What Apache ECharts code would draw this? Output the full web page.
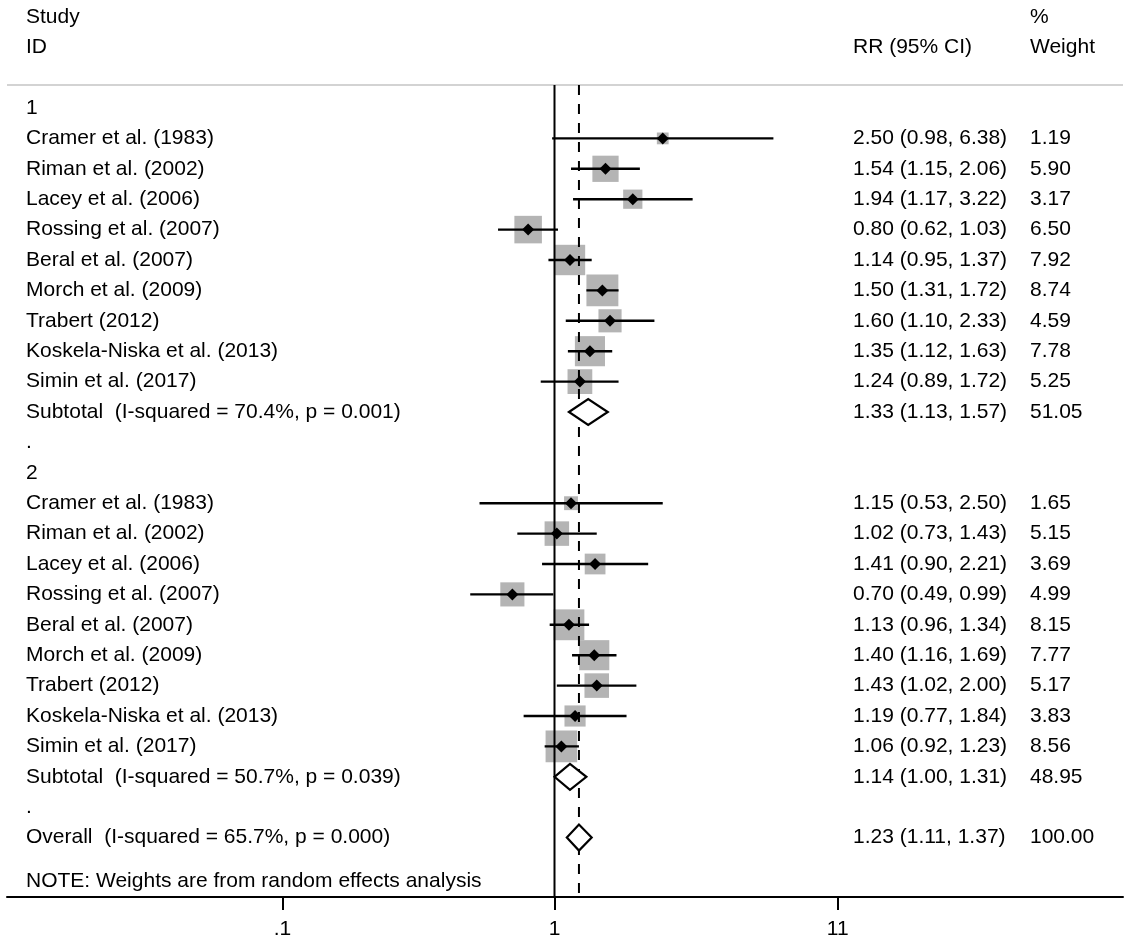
<!DOCTYPE html>
<html><head><meta charset="utf-8">
<script src="https://cdn.jsdelivr.net/npm/echarts@6/dist/echarts.min.js"></script>
<style>html,body{margin:0;padding:0;background:#fff}#c{width:1134px;height:948px}</style>
</head><body><div id="c"></div>
<script>
// ---------------- data ----------------
const groupLabels = ['1', '2'];
const studies = ['Cramer et al. (1983)', 'Riman et al. (2002)', 'Lacey et al. (2006)', 'Rossing et al. (2007)',
  'Beral et al. (2007)', 'Morch et al. (2009)', 'Trabert (2012)', 'Koskela-Niska et al. (2013)', 'Simin et al. (2017)'];
const g1RR = [2.50, 1.54, 1.94, 0.80, 1.14, 1.50, 1.60, 1.35, 1.24];
const g1Lo = [0.98, 1.15, 1.17, 0.62, 0.95, 1.31, 1.10, 1.12, 0.89];
const g1Hi = [6.38, 2.06, 3.22, 1.03, 1.37, 1.72, 2.33, 1.63, 1.72];
const g1W  = [1.19, 5.90, 3.17, 6.50, 7.92, 8.74, 4.59, 7.78, 5.25];
const g2RR = [1.15, 1.02, 1.41, 0.70, 1.13, 1.40, 1.43, 1.19, 1.06];
const g2Lo = [0.53, 0.73, 0.90, 0.49, 0.96, 1.16, 1.02, 0.77, 0.92];
const g2Hi = [2.50, 1.43, 2.21, 0.99, 1.34, 1.69, 2.00, 1.84, 1.23];
const g2W  = [1.65, 5.15, 3.69, 4.99, 8.15, 7.77, 5.17, 3.83, 8.56];
const subRR = [1.33, 1.14];
const subLo = [1.13, 1.00];
const subHi = [1.57, 1.31];
const subW  = [51.05, 48.95];
const subI2 = ['70.4%', '50.7%'];
const subP  = ['0.001', '0.039'];
const overallVals = [1.23, 1.11, 1.37, 100.00]; // RR, lo, hi, weight
const overallI2 = '65.7%';
const overallP = '0.000';
const tickValues = [0.1, 1, 11];
const tickLabels = ['.1', '1', '11'];
const headerLeft = ['Study', 'ID'];
const headerRR = 'RR (95% CI)';
const headerW = ['%', 'Weight'];
const noteText = 'NOTE: Weights are from random effects analysis';

// ---------------- layout ----------------
const W = 1134, H = 948;
const ROW0 = 108, ROWH = 30.4, AXIS_Y = 897, TOPLINE_Y = 85;
const GRID_L = 7, GRID_R = 1123, X_ONE = 554.5, DECADE = 272;
const COL_X = { label: 26, rr: 853, w: 1030 };
const FONT = '21px "Liberation Sans", Arial, sans-serif';
const yMin = (0 - ROW0) / ROWH;
const yMax = (AXIS_Y - ROW0) / ROWH;
const topRow = (TOPLINE_Y - ROW0) / ROWH;
const xMin = (GRID_L - X_ONE) / DECADE;
const xMax = (GRID_R - X_ONE) / DECADE;
const L = Math.log10;
const f2 = v => v.toFixed(2);
const ciText = (r, lo, hi) => f2(r) + ' (' + f2(lo) + ', ' + f2(hi) + ')';

// ---------------- build rows ----------------
const texts = [];   // {col,row,text}
const boxes = [];   // [x,row,w]
const cis = [];     // [lo,hi,row]
const points = [];  // [x,row]
const diamonds = [];// [est,lo,hi,row]
texts.push({ col: 'label', row: -3, text: headerLeft[0] });
texts.push({ col: 'label', row: -2, text: headerLeft[1] });
texts.push({ col: 'rr', row: -2, text: headerRR });
texts.push({ col: 'w', row: -3, text: headerW[0] });
texts.push({ col: 'w', row: -2, text: headerW[1] });
const groups = [[g1RR, g1Lo, g1Hi, g1W], [g2RR, g2Lo, g2Hi, g2W]];
let r = 0;
groups.forEach((g, gi) => {
  texts.push({ col: 'label', row: r, text: groupLabels[gi] });
  r++;
  studies.forEach((s, i) => {
    texts.push({ col: 'label', row: r, text: s });
    texts.push({ col: 'rr', row: r, text: ciText(g[0][i], g[1][i], g[2][i]) });
    texts.push({ col: 'w', row: r, text: f2(g[3][i]) });
    boxes.push([L(g[0][i]), r, g[3][i]]);
    cis.push([L(g[1][i]), L(g[2][i]), r]);
    points.push([L(g[0][i]), r]);
    r++;
  });
  texts.push({ col: 'label', row: r, text: 'Subtotal  (I-squared = ' + subI2[gi] + ', p = ' + subP[gi] + ')' });
  texts.push({ col: 'rr', row: r, text: ciText(subRR[gi], subLo[gi], subHi[gi]) });
  texts.push({ col: 'w', row: r, text: f2(subW[gi]) });
  diamonds.push([L(subRR[gi]), L(subLo[gi]), L(subHi[gi]), r]);
  r++;
  texts.push({ col: 'label', row: r, text: '.' });
  r++;
});
texts.push({ col: 'label', row: r, text: 'Overall  (I-squared = ' + overallI2 + ', p = ' + overallP + ')' });
texts.push({ col: 'rr', row: r, text: ciText(overallVals[0], overallVals[1], overallVals[2]) });
texts.push({ col: 'w', row: r, text: f2(overallVals[3]) });
diamonds.push([L(overallVals[0]), L(overallVals[1]), L(overallVals[2]), r]);
texts.push({ col: 'label', row: r + 1.45, text: noteText });

const tickLog = tickValues.map(L);

const chart = echarts.init(document.getElementById('c'), null, { renderer: 'canvas', width: W, height: H });
chart.setOption({
  animation: false,
  backgroundColor: '#fff',
  grid: { left: GRID_L, right: W - GRID_R, top: 0, bottom: H - AXIS_Y, containLabel: false },
  xAxis: {
    type: 'value', min: xMin, max: xMax, position: 'bottom',
    axisLine: { show: true, onZero: false, lineStyle: { color: '#000', width: 2 } },
    axisTick: { show: true, customValues: tickLog, length: 13, lineStyle: { color: '#000', width: 2 } },
    axisLabel: {
      show: true, customValues: tickLog, margin: 22, color: '#000', fontSize: 21,
      fontFamily: '"Liberation Sans", Arial, sans-serif',
      formatter: v => { const i = tickLog.findIndex(t => Math.abs(t - v) < 1e-6); return i >= 0 ? tickLabels[i] : ''; }
    },
    splitLine: { show: false }
  },
  yAxis: { type: 'value', inverse: true, min: yMin, max: yMax, show: false },
  series: [
    { type: 'line', z: 1, silent: true, symbol: 'none', data: [[xMin, topRow], [xMax, topRow]],
      lineStyle: { color: '#c4c4c4', width: 1.6 } },
    { type: 'scatter', z: 2, silent: true, symbol: 'rect', data: boxes,
      symbolSize: v => 10.8 * Math.sqrt(v[2]), itemStyle: { color: '#b4b4b4', opacity: 1 } },
    { type: 'line', z: 3, silent: true, symbol: 'none', data: [[0, topRow], [0, yMax]],
      lineStyle: { color: '#000', width: 2 } },
    { type: 'line', z: 3, silent: true, symbol: 'none', data: [[L(overallVals[0]), topRow], [L(overallVals[0]), yMax]],
      lineStyle: { color: '#000', width: 2, type: [10, 9] } },
    { type: 'custom', z: 4, silent: true, clip: false, data: cis, encode: { x: [0, 1], y: 2 },
      renderItem: (p, api) => {
        const a = api.coord([api.value(0), api.value(2)]);
        const b = api.coord([api.value(1), api.value(2)]);
        return { type: 'line', shape: { x1: a[0], y1: a[1], x2: b[0], y2: b[1] }, style: { stroke: '#000', lineWidth: 2.4 } };
      } },
    { type: 'scatter', z: 5, silent: true, symbol: 'diamond', symbolSize: 12, data: points,
      itemStyle: { color: '#000', opacity: 1 } },
    { type: 'custom', z: 6, silent: true, clip: false, data: diamonds, encode: { x: [0, 1, 2], y: 3 },
      renderItem: (p, api) => {
        const row = api.value(3);
        const c = api.coord([api.value(0), row]);
        const a = api.coord([api.value(1), row]);
        const b = api.coord([api.value(2), row]);
        const h = 13;
        return { type: 'polygon', shape: { points: [[a[0], c[1]], [c[0], c[1] - h], [b[0], c[1]], [c[0], c[1] + h]] },
          style: { fill: '#fff', stroke: '#000', lineWidth: 2.2 } };
      } },
    { type: 'custom', z: 7, silent: true, clip: false,
      data: texts.map(t => [0, t.row]), encode: { x: 0, y: 1 },
      renderItem: (p, api) => {
        const t = texts[p.dataIndex];
        const y = api.coord([0, t.row])[1];
        return { type: 'text', x: COL_X[t.col], y: y,
          style: { text: t.text, fill: '#000', font: FONT, align: 'left', verticalAlign: 'middle' } };
      } }
  ]
});
</script></body></html>
